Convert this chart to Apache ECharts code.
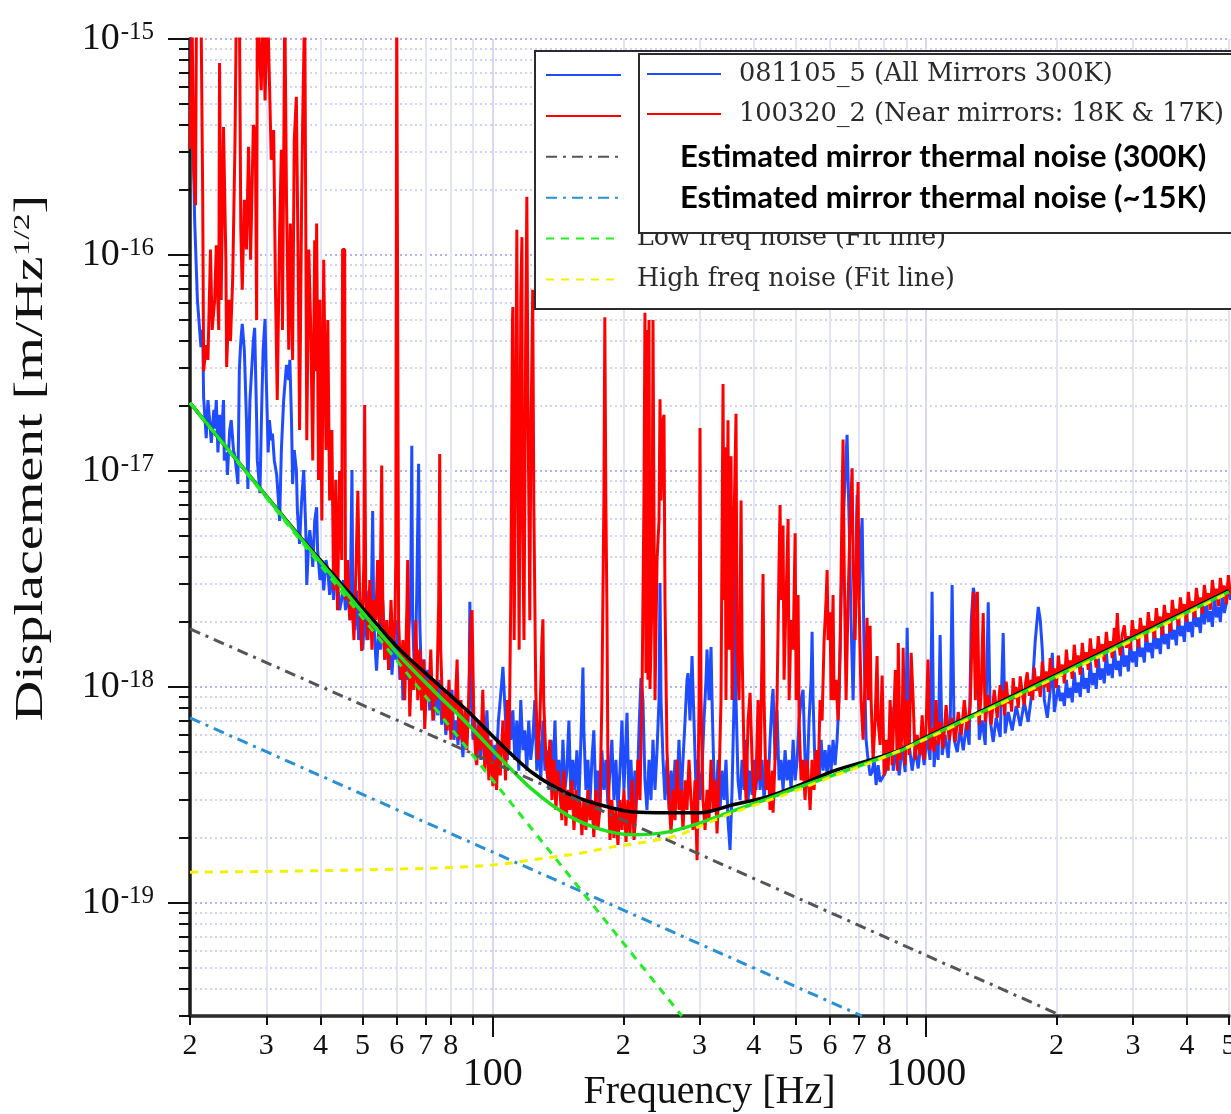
<!DOCTYPE html>
<html><head><meta charset="utf-8">
<script src="https://cdn.jsdelivr.net/npm/echarts@6/dist/echarts.min.js"></script>
<style>html,body{margin:0;padding:0;background:#fff}#c{width:1231px;height:1114px}</style>
</head><body><div id="c"></div>
<script>
// ---- data: [frequency Hz, displacement m/Hz^1/2] ----
const blue081105 = [[20,1.5e-15],[20.2,1.5e-15],[20.4,2.5e-16],[20.5,1.45e-16],[20.7,8.3e-17],[20.8,6.2e-17],[21.2,3.75e-17],[21.4,4.5e-17],[21.5,2.2e-17],[21.8,1.42e-17],[22.0,2.13e-17],[22.2,1.72e-17],[22.4,1.35e-17],[22.7,1.92e-17],[22.8,1.57e-17],[23.0,2.13e-17],[23.2,1.22e-17],[23.4,1.82e-17],[23.6,1.35e-17],[23.9,2.13e-17],[24.0,1.12e-17],[24.3,1.22e-17],[24.4,9.6e-18],[24.7,1.55e-17],[24.9,1.72e-17],[25.2,1.25e-17],[25.4,1.16e-17],[25.6,1.01e-17],[25.8,8.7e-18],[26.0,2.97e-17],[26.2,4.0e-17],[26.4,4.8e-17],[26.7,3.6e-17],[27.0,1.72e-17],[27.2,8.25e-18],[27.5,2.13e-17],[27.8,3.1e-17],[28.0,4.0e-17],[28.2,4.6e-17],[28.5,1.72e-17],[28.6,1.12e-17],[29.0,7.9e-18],[29.3,2.13e-17],[29.5,3.64e-17],[29.8,5.06e-17],[30.0,2.64e-17],[30.3,1.22e-17],[30.5,1.72e-17],[30.8,1.39e-17],[31.0,1.49e-17],[31.3,1.12e-17],[31.7,9.6e-18],[32.0,7.3e-18],[32.2,5.87e-18],[32.5,1.25e-17],[32.9,2.13e-17],[33.3,2.9e-17],[33.4,3.1e-17],[33.8,2.64e-17],[34.0,3.27e-17],[34.3,1.72e-17],[34.5,8.7e-18],[34.8,1.25e-17],[35.2,1.01e-17],[35.4,6.45e-18],[35.8,4.6e-18],[36.2,7.3e-18],[36.6,1.01e-17],[37.0,5.33e-18],[37.2,2.97e-18],[37.6,4.8e-18],[37.8,5.33e-18],[38.2,4.3e-18],[38.4,3.6e-18],[38.8,5.9e-18],[39.2,6.8e-18],[39.4,4.3e-18],[39.9,3.13e-18],[40.3,3.87e-18],[40.7,2.8e-18],[41.2,3.87e-18],[41.6,3.45e-18],[42.0,2.67e-18],[42.5,3.48e-18],[42.9,2.53e-18],[43.4,3.48e-18],[43.8,3.13e-18],[44.3,2.27e-18],[44.8,2.55e-18],[45.2,3.13e-18],[45.7,2.27e-18],[46.2,2.8e-18],[46.8,2.04e-18],[47.3,1.01e-17],[47.5,2.53e-18],[48.0,1.84e-18],[48.5,2.8e-18],[49.0,1.65e-18],[49.6,2.53e-18],[50.1,1.49e-18],[50.6,2.27e-18],[51.2,1.65e-18],[51.7,2.8e-18],[52.3,1.84e-18],[52.8,6.53e-18],[53.1,2.04e-18],[53.7,1.34e-18],[53.9,1.19e-18],[54.5,1.84e-18],[55.1,1.49e-18],[55.7,2.53e-18],[56.3,1.34e-18],[56.9,1.84e-18],[57.5,1.2e-18],[58.2,1.65e-18],[58.5,1.14e-18],[59.1,1.65e-18],[59.7,1.34e-18],[60.3,2.04e-18],[61.0,1.08e-18],[61.6,1.49e-18],[62.0,8.7e-19],[62.6,1.34e-18],[63.3,1.08e-18],[64.0,1.84e-18],[64.6,2.53e-18],[65.0,1.31e-17],[65.3,2.04e-18],[66.0,1.08e-18],[66.7,2.53e-18],[67.4,1.08e-17],[67.8,2.04e-18],[68.5,9.7e-19],[69.3,1.34e-18],[70.0,8.7e-19],[70.7,1.2e-18],[71.5,7.8e-19],[72.3,1.08e-18],[73.0,7.0e-19],[73.8,9.7e-19],[74.6,7.4e-19],[75.4,1.08e-18],[76.2,6.7e-19],[77.1,8.7e-19],[77.9,6.0e-19],[78.8,8.7e-19],[79.6,6.3e-19],[80.5,9.7e-19],[81.3,5.7e-19],[82.2,7.0e-19],[83.1,5.4e-19],[83.9,7.8e-19],[84.8,5.7e-19],[85.3,4.74e-19],[86.2,7.0e-19],[87.1,5.7e-19],[88.1,8.7e-19],[88.5,2.48e-18],[89.0,9.7e-19],[90.0,5.7e-19],[90.9,7.0e-19],[91.8,5.1e-19],[92.8,6.3e-19],[93.8,4.6e-19],[94.8,7.0e-19],[95.8,5.1e-19],[96.9,7.8e-19],[97.9,4.6e-19],[98.9,5.7e-19],[100,4.1e-19],[101,5.4e-19],[102,4.6e-19],[103,7.0e-19],[104,8.7e-19],[105.5,1.24e-18],[107,7.0e-19],[108,4.6e-19],[109,8.7e-19],[110,5.7e-19],[111.2,7.8e-19],[112.4,4.6e-19],[113.6,7.0e-19],[114.8,4.1e-19],[116,8.7e-19],[117.3,5.1e-19],[118.5,6.3e-19],[119.8,4.1e-19],[121,7.0e-19],[122.3,4.6e-19],[123.6,5.7e-19],[125,8.7e-19],[126.3,4.1e-19],[127.7,5.7e-19],[129,3.7e-19],[130.5,7.0e-19],[131.9,4.1e-19],[133.3,5.1e-19],[134.7,3.34e-19],[136.2,5.7e-19],[137.6,3.7e-19],[139.1,7.0e-19],[140.6,3.34e-19],[142,4.6e-19],[143.6,3.0e-19],[145.1,5.7e-19],[146.7,3.34e-19],[148.2,4.1e-19],[149.8,7.0e-19],[151.4,3.0e-19],[153,4.6e-19],[154.7,3.34e-19],[156.3,5.1e-19],[158,3.0e-19],[159.7,5.7e-19],[161.4,1.23e-18],[162.2,6.3e-19],[164,3.34e-19],[165.7,4.6e-19],[167.5,2.85e-19],[169.3,4.6e-19],[171,6.3e-19],[172.9,3.0e-19],[174.7,4.1e-19],[176.6,2.7e-19],[178.5,5.1e-19],[180.4,3.34e-19],[182.3,4.6e-19],[184.3,2.85e-19],[186.3,4.1e-19],[188.2,5.7e-19],[190.3,3.0e-19],[192.3,4.6e-19],[194.4,2.7e-19],[196.5,4.1e-19],[198.6,7.0e-19],[200.7,3.34e-19],[202.9,5.7e-19],[204,7.6e-19],[206.1,3.0e-19],[208.3,4.6e-19],[210.6,2.56e-19],[212.8,4.1e-19],[215.1,3.0e-19],[217.4,6.3e-19],[219.7,1.1e-18],[222,8.7e-19],[224.4,3.7e-19],[226.8,2.7e-19],[229.3,4.6e-19],[231.7,3.0e-19],[234.2,5.7e-19],[236.7,3.34e-19],[239.3,5.1e-19],[241.8,8.7e-19],[243.1,3.03e-18],[244.4,8.7e-19],[247,4.6e-19],[249.6,3.0e-19],[252.3,4.6e-19],[255,2.7e-19],[257.8,4.1e-19],[260.5,3.0e-19],[263.3,4.6e-19],[266.1,3.34e-19],[268.9,5.7e-19],[271.8,3.0e-19],[274.7,4.6e-19],[277.7,7.0e-19],[280.6,1.08e-18],[282.1,1.16e-18],[285.1,7.0e-19],[288.2,1.39e-18],[291.2,7.0e-19],[294.4,3.34e-19],[297.5,4.6e-19],[300.7,3.0e-19],[303.9,4.1e-19],[307.1,7.0e-19],[310.4,1.08e-18],[312.1,1.49e-18],[315.4,8.7e-19],[318.8,1.53e-18],[320.5,8.7e-19],[324,3.7e-19],[327.5,3.0e-19],[331,4.6e-19],[334.4,2.7e-19],[338,4.1e-19],[341.6,3.0e-19],[345.2,4.6e-19],[348.9,2.42e-19],[352.7,1.76e-19],[356.5,3.34e-19],[360.3,8.7e-19],[362.2,6.06e-18],[364.1,8.7e-19],[368,3.7e-19],[372,3.0e-19],[376,4.6e-19],[380,3.34e-19],[384.1,5.7e-19],[388.2,3.0e-19],[392.3,4.1e-19],[396.5,3.17e-19],[400.7,4.6e-19],[405,3.34e-19],[409.3,5.1e-19],[413.7,3.34e-19],[418.1,4.6e-19],[422.6,3.0e-19],[427.1,4.1e-19],[431.7,3.34e-19],[436.3,5.7e-19],[441,8.7e-19],[443.3,9.8e-19],[448,4.6e-19],[452.8,7.8e-19],[457.7,3.7e-19],[462.6,4.6e-19],[467.5,3.34e-19],[472.5,5.1e-19],[477.6,3.7e-19],[482.8,4.6e-19],[487.9,3.34e-19],[493.2,5.7e-19],[498.5,3.7e-19],[503.8,4.6e-19],[509,7.0e-19],[514.4,8.7e-19],[519.9,9.7e-19],[525.5,4.6e-19],[531.1,3.7e-19],[536.8,7.0e-19],[542.6,1.08e-18],[545.5,1.8e-18],[548.4,8.7e-19],[554.3,4.1e-19],[560.2,5.1e-19],[566.2,3.7e-19],[572.2,5.7e-19],[578.3,4.1e-19],[584.5,5.1e-19],[590.8,3.9e-19],[597.1,5.4e-19],[603.4,4.1e-19],[609.8,5.7e-19],[616.3,4.35e-19],[622.9,5.7e-19],[629.6,8.7e-19],[636.3,2.53e-18],[643.1,5.9e-18],[650,9.1e-18],[656.9,1.47e-17],[664,5.9e-18],[671,2.04e-18],[678.3,8.7e-19],[685.6,2.53e-18],[692.9,7.74e-18],[700.2,2.53e-18],[704,3.87e-18],[711.6,6.06e-18],[719.1,1.49e-18],[726.8,5.7e-19],[734.5,4.6e-19],[742.5,3.9e-19],[750.4,4.04e-19],[758.4,4.6e-19],[766.5,3.52e-19],[774.7,4.35e-19],[783,3.64e-19],[804.3,4.0e-19],[817.3,4.6e-19],[830.5,8.1e-19],[839.4,4.1e-19],[853,5.1e-19],[866.5,3.9e-19],[880.4,5.4e-19],[894.5,4.04e-19],[904,1.88e-18],[913.6,5.4e-19],[928.3,4.1e-19],[943.3,5.2e-19],[958.6,4.2e-19],[974,5.7e-19],[989.5,4.35e-19],[1005,6.0e-19],[1021,4.6e-19],[1032,2.76e-18],[1043,4.26e-19],[1054,5.7e-19],[1066,4.6e-19],[1077,1.74e-18],[1089,4.85e-19],[1106,6.0e-19],[1124,4.7e-19],[1136,6.3e-19],[1148,2.97e-18],[1161,5.7e-19],[1180,5.0e-19],[1198,6.4e-19],[1218,5.1e-19],[1238,6.7e-19],[1257,5.4e-19],[1271,2.04e-18],[1285,2.88e-18],[1299,2.53e-18],[1313,2.04e-18],[1326,5.7e-19],[1347,7.0e-19],[1369,5.4e-19],[1391,2.47e-18],[1406,7.0e-19],[1428,5.57e-19],[1451,7.2e-19],[1482,5.87e-19],[1506,1.78e-18],[1522,6.1e-19],[1547,7.66e-19],[1580,6.3e-19],[1614,8.17e-19],[1649,6.6e-19],[1684,8.52e-19],[1720,6.9e-19],[1757,9.7e-19],[1786,1.65e-18],[1815,2.35e-18],[1834,2.04e-18],[1854,1.49e-18],[1874,8.7e-19],[1904,7.2e-19],[1934,9.7e-19],[1955,1.44e-18],[1976,7.66e-19],[2019,1.02e-18],[2040,8.6e-19],[2062,9.4e-19],[2085,8.17e-19],[2107,1.08e-18],[2129,8.9e-19],[2151,9.9e-19],[2174,8.5e-19],[2197,1.17e-18],[2220,9.4e-19],[2244,1.05e-18],[2268,9.0e-19],[2293,1.23e-18],[2317,9.8e-19],[2342,1.1e-18],[2367,9.4e-19],[2392,1.31e-18],[2417,1.02e-18],[2443,1.16e-18],[2469,9.8e-19],[2496,1.36e-18],[2523,1.08e-18],[2550,1.22e-18],[2577,1.04e-18],[2605,1.45e-18],[2633,1.13e-18],[2661,1.28e-18],[2689,1.1e-18],[2718,1.52e-18],[2747,1.2e-18],[2776,1.32e-18],[2806,1.12e-18],[2836,1.57e-18],[2867,1.24e-18],[2898,1.4e-18],[2929,1.18e-18],[2959,1.65e-18],[2991,1.3e-18],[3023,1.46e-18],[3056,1.24e-18],[3088,1.72e-18],[3121,1.38e-18],[3154,1.52e-18],[3188,1.3e-18],[3222,1.8e-18],[3256,1.45e-18],[3291,1.6e-18],[3327,1.36e-18],[3362,1.88e-18],[3398,1.5e-18],[3434,1.68e-18],[3471,1.42e-18],[3508,2.0e-18],[3545,1.58e-18],[3584,1.76e-18],[3622,1.5e-18],[3661,2.09e-18],[3699,1.66e-18],[3740,1.84e-18],[3779,1.56e-18],[3820,2.15e-18],[3861,1.72e-18],[3902,1.92e-18],[3943,1.62e-18],[3986,2.27e-18],[4028,1.8e-18],[4072,2.0e-18],[4115,1.7e-18],[4160,2.4e-18],[4204,1.9e-18],[4249,2.1e-18],[4294,1.78e-18],[4340,2.45e-18],[4386,1.95e-18],[4433,2.53e-18],[4480,2.0e-18],[4529,2.25e-18],[4577,1.9e-18],[4627,2.64e-18],[4675,2.1e-18],[4726,2.35e-18],[4775,2.0e-18],[4828,2.76e-18],[4878,2.2e-18],[4930,2.45e-18],[4983,3.07e-18],[5036,2.53e-18]];

const red100320 = [[20.0,3.1e-16],[20.2,1.5e-15],[20.4,2.5e-16],[20.6,1.7e-16],[20.7,1.5e-15],[21.2,1.5e-15],[21.4,1.8e-16],[21.5,2.9e-17],[21.8,3.83e-17],[22.0,3.27e-17],[22.3,1.06e-16],[22.5,4.5e-17],[22.8,6.19e-17],[23.0,1.11e-16],[23.3,4.5e-17],[23.4,7.74e-16],[23.6,6.2e-17],[23.9,3.91e-16],[24.2,9.5e-17],[24.3,3.03e-17],[24.6,6.2e-17],[24.8,4.0e-17],[25.1,7.9e-17],[25.4,3.3e-16],[25.6,1.5e-15],[26.0,1.5e-15],[26.2,1.31e-16],[26.4,6.9e-17],[26.7,1.8e-16],[27.0,1.06e-16],[27.3,3.17e-16],[27.6,9.5e-17],[27.9,2.76e-16],[28.0,4.0e-16],[28.3,3.67e-16],[28.5,5.0e-17],[28.6,1.5e-15],[29.2,5.8e-16],[29.5,1.5e-15],[29.8,5.2e-16],[30.2,1.5e-15],[30.5,6.46e-16],[30.8,2.76e-16],[31.2,3.79e-16],[31.5,6.9e-17],[31.8,2.13e-17],[32.2,1.31e-16],[32.5,3.07e-16],[32.7,4.5e-17],[33.1,1.5e-15],[33.4,1.8e-16],[33.8,3.64e-17],[34.1,1.4e-16],[34.5,3.27e-17],[34.8,3.4e-16],[35.2,5.4e-16],[35.6,6.2e-17],[35.8,1.55e-17],[36.2,1.8e-16],[36.4,4.2e-16],[36.8,1.5e-15],[37.2,1.39e-17],[37.6,1.06e-16],[38.0,4.5e-17],[38.4,1.12e-17],[38.8,1.17e-16],[39.0,2.9e-17],[39.2,1.4e-16],[39.6,9.1e-18],[39.9,6.2e-17],[40.3,5.9e-18],[40.7,9.5e-17],[41.2,1.25e-17],[41.6,5.0e-17],[42.0,7.3e-18],[42.5,1.55e-17],[42.9,2.8e-18],[43.4,9.1e-18],[43.8,2.27e-18],[44.3,1.0e-17],[44.8,3.87e-18],[45.0,1.06e-16],[45.5,1.06e-16],[45.7,2.53e-18],[46.2,3.87e-18],[46.8,2.04e-18],[47.3,2.53e-18],[47.8,1.65e-18],[48.3,3.48e-18],[48.8,8.1e-18],[49.3,2.53e-18],[49.8,1.47e-18],[50.4,3.87e-18],[50.6,2.02e-17],[50.9,2.53e-18],[51.5,1.65e-18],[52.0,3.13e-18],[52.6,1.49e-18],[53.1,2.53e-18],[53.7,2.04e-18],[54.2,3.87e-18],[54.8,1.65e-18],[55.4,1.06e-17],[55.7,2.53e-18],[56.3,1.34e-18],[56.9,2.04e-18],[57.5,1.2e-18],[58.2,2.53e-18],[58.8,1.49e-18],[59.4,1.84e-18],[59.7,3.87e-18],[60.0,1.5e-15],[60.6,2.04e-18],[61.3,1.08e-18],[62.0,1.65e-18],[62.6,8.7e-19],[63.3,2.27e-18],[63.6,3.87e-18],[64.3,7.3e-19],[65.0,1.34e-18],[65.7,9.7e-19],[66.4,2.04e-18],[67.1,8.7e-19],[67.8,1.49e-18],[68.5,7.8e-19],[69.3,1.34e-18],[69.6,6.4e-19],[70.4,1.08e-18],[71.1,8.7e-19],[71.9,1.49e-18],[72.7,7.0e-19],[73.4,1.08e-18],[74.2,8.7e-19],[75.0,2.53e-18],[75.4,1.2e-17],[75.8,1.49e-18],[76.7,7.0e-19],[77.5,9.7e-19],[78.3,6.3e-19],[79.2,1.08e-18],[80.0,5.7e-19],[80.9,8.7e-19],[81.8,7.8e-19],[82.7,1.34e-18],[83.5,5.7e-19],[84.4,8.7e-19],[85.3,5.4e-19],[86.2,7.8e-19],[87.1,5.1e-19],[88.1,9.7e-19],[89.0,2.04e-18],[89.5,2.27e-18],[90.4,7.0e-19],[91.4,4.6e-19],[91.8,4.35e-19],[92.8,7.0e-19],[93.8,5.1e-19],[94.8,9.7e-19],[95.8,4.1e-19],[96.9,6.3e-19],[97.9,3.7e-19],[98.9,5.7e-19],[100,3.48e-19],[101,4.6e-19],[102,3.34e-19],[103,5.7e-19],[104,3.9e-19],[105.5,7.0e-19],[107,3.7e-19],[108,8.7e-19],[109,5.1e-19],[110,2.53e-18],[111,5.0e-17],[111.2,5.75e-17],[112,1.65e-18],[113,2.13e-17],[113.6,1.31e-16],[114,2.13e-17],[115,1.49e-18],[116,6.2e-17],[116.7,1.21e-16],[117,7.3e-18],[118,1.65e-18],[119,3.64e-17],[119.8,1.86e-16],[120.5,2.13e-17],[121.7,2.04e-18],[122.3,1.25e-17],[123.6,6.9e-17],[124.3,7.3e-18],[125.6,9.7e-19],[127,4.6e-19],[128.4,7.0e-19],[129.8,1.65e-18],[130.5,2.06e-18],[131,8.7e-19],[132.6,4.6e-19],[134,3.7e-19],[135.4,5.7e-19],[136.9,3.0e-19],[138.4,4.6e-19],[139.8,2.7e-19],[141.3,4.1e-19],[142.8,3.34e-19],[144.3,2.42e-19],[145.9,4.1e-19],[147.4,2.28e-19],[149,3.34e-19],[150.6,2.7e-19],[152.2,3.7e-19],[153.9,2.18e-19],[155.5,3.34e-19],[157.1,2.42e-19],[158.8,3.0e-19],[160.5,2.06e-19],[162.2,3.0e-19],[164,2.18e-19],[165.7,3.34e-19],[167.5,2.42e-19],[169.3,3.0e-19],[171,2.02e-19],[172.9,3.34e-19],[174.7,2.18e-19],[176.6,2.7e-19],[178.5,8.7e-19],[180.4,7.3e-18],[181.3,5.15e-17],[182.3,7.3e-18],[183.3,2.45e-18],[184.3,4.6e-19],[186.3,1.96e-19],[188.2,3.0e-19],[190.3,2.0e-19],[192.3,2.7e-19],[194.4,1.86e-19],[196.5,3.0e-19],[198.6,2.18e-19],[200.7,3.34e-19],[202.9,1.92e-19],[205,3.0e-19],[207.2,2.06e-19],[209.4,3.7e-19],[211.7,1.96e-19],[214,2.7e-19],[216.2,4.6e-19],[218.5,3.0e-19],[220.9,8.7e-19],[223.2,7.3e-18],[224.4,5.4e-17],[225.6,1.16e-18],[226.8,4.5e-17],[228,1.08e-18],[229.3,5.0e-17],[230.5,9.8e-19],[232.9,2.53e-18],[234.2,5.0e-17],[236.7,8.7e-19],[239.3,3.87e-18],[241.8,5.9e-18],[243.1,2.15e-17],[244.4,7.3e-18],[247,1.72e-17],[248.3,1.82e-17],[249.6,2.53e-18],[252.3,5.1e-19],[255,3.0e-19],[257.8,2.1e-19],[260.5,3.34e-19],[263.3,2.42e-19],[266.1,4.6e-19],[268.9,2.7e-19],[271.8,3.34e-19],[274.7,2.18e-19],[277.7,3.7e-19],[280.6,2.7e-19],[283.6,4.6e-19],[286.6,3.0e-19],[289.7,2.18e-19],[292.8,3.7e-19],[296,1.58e-19],[299.2,8.7e-19],[300.7,1.58e-17],[302.3,8.7e-19],[305.5,3.0e-19],[308.8,2.18e-19],[312.1,3.34e-19],[315.4,2.42e-19],[318.8,4.6e-19],[322.3,2.7e-19],[325.7,3.7e-19],[329.2,2.1e-19],[332.7,3.7e-19],[336.2,8.7e-19],[339.8,2.53e-17],[341.6,2.53e-18],[343.4,1.29e-17],[345.2,8.7e-19],[348.9,1.72e-17],[350.8,1.49e-18],[354.6,1.17e-17],[356.5,8.7e-19],[360.3,5.9e-18],[364.1,1.84e-17],[366.1,1.49e-18],[370,8.7e-19],[374,7.3e-18],[376,1.49e-18],[380,4.6e-19],[384.1,3.0e-19],[388.2,7.0e-19],[392.3,9.4e-19],[396.5,4.6e-19],[400.7,3.0e-19],[405,3.7e-19],[409.3,8.7e-19],[413.7,3.7e-19],[418.1,1.49e-18],[420.3,3.34e-18],[422.6,8.7e-19],[427.1,3.34e-19],[431.7,4.6e-19],[436.3,2.7e-19],[441,4.1e-19],[443.3,2.62e-19],[448,4.6e-19],[452.8,8.7e-19],[457.7,3.87e-18],[460.1,6.96e-18],[462.6,2.53e-18],[467.5,5.6e-18],[470,1.08e-18],[475,2.53e-18],[480.2,6.0e-18],[482.8,8.7e-19],[487.9,2.04e-18],[493.2,1.49e-18],[498.5,5.15e-18],[501.1,8.7e-19],[506.3,2.67e-18],[509,7.0e-19],[514.4,3.7e-19],[519.9,4.6e-19],[525.5,3.0e-19],[531.1,4.6e-19],[536.8,3.34e-19],[539.7,2.7e-19],[545.5,4.6e-19],[551.3,3.34e-19],[557.2,5.1e-19],[563.2,3.7e-19],[569.2,8.7e-19],[575.3,7.0e-19],[581.4,1.65e-18],[587.6,2.53e-18],[590.8,3.48e-18],[593.9,1.65e-18],[600.2,2.22e-18],[603.4,8.7e-19],[609.8,2.67e-18],[613.1,8.7e-19],[619.6,1.08e-18],[626.3,7.0e-19],[633,1.49e-18],[639.7,7.3e-18],[643.1,1.4e-17],[646.6,3.87e-18],[653.5,8.7e-19],[660.5,2.53e-18],[667.6,5.9e-18],[674.7,1.03e-17],[678.3,3.87e-18],[685.6,1.65e-18],[692.9,5.9e-18],[696.5,8.9e-18],[700.2,2.53e-18],[707.7,8.7e-19],[715.3,5.7e-19],[722.9,1.08e-18],[730.6,2.09e-18],[734.5,8.7e-19],[742.5,1.92e-18],[746.4,8.7e-19],[754.4,4.6e-19],[762.4,7.0e-19],[770.5,1.39e-18],[774.7,7.0e-19],[783,5.4e-19],[791.5,1.13e-18],[800,3.9e-19],[808.6,5.7e-19],[817.3,4.1e-19],[825.8,8.7e-19],[835,4.35e-19],[849,1.2e-18],[858,4.1e-19],[862.4,1.6e-18],[871,4.6e-19],[880.4,6.3e-19],[885,1.52e-18],[894.5,4.35e-19],[904,8.7e-19],[913.6,4.85e-19],[923.4,1.44e-18],[933.3,8.7e-19],[943.3,4.6e-19],[953.4,6.0e-19],[968.6,4.85e-19],[979,7.4e-19],[989.5,4.6e-19],[1000,6.7e-19],[1010,1.34e-18],[1021,5.1e-19],[1032,6.45e-19],[1043,5.0e-19],[1054,8.7e-19],[1066,5.4e-19],[1077,6.9e-19],[1094,5.2e-19],[1112,8.25e-19],[1130,5.7e-19],[1148,7.2e-19],[1167,5.57e-19],[1186,7.66e-19],[1205,6.0e-19],[1225,8.7e-19],[1244,6.3e-19],[1264,8.25e-19],[1285,2.76e-18],[1299,8.7e-19],[1313,2.76e-18],[1326,6.7e-19],[1340,9.7e-19],[1354,2.2e-18],[1369,6.9e-19],[1391,9.2e-19],[1413,6.7e-19],[1436,9.7e-19],[1459,7.2e-19],[1482,1.02e-18],[1494,8.1e-19],[1506,9.6e-19],[1518,7.4e-19],[1530,1.06e-18],[1547,8.4e-19],[1563,9.2e-19],[1575,7.7e-19],[1588,1.1e-18],[1601,8.8e-19],[1614,1.0e-18],[1631,8.0e-19],[1649,1.12e-18],[1667,9.3e-19],[1684,8.25e-19],[1697,1.05e-18],[1711,1.17e-18],[1730,9.1e-19],[1748,1.08e-18],[1762,8.7e-19],[1776,1.23e-18],[1795,9.6e-19],[1815,1.12e-18],[1834,9.0e-19],[1854,1.31e-18],[1874,1.0e-18],[1894,1.18e-18],[1914,9.5e-19],[1934,1.36e-18],[1955,1.08e-18],[1976,1.22e-18],[1997,9.9e-19],[2019,1.4e-18],[2040,1.12e-18],[2062,1.27e-18],[2085,1.04e-18],[2107,1.49e-18],[2129,1.18e-18],[2151,1.33e-18],[2174,1.09e-18],[2197,1.57e-18],[2220,1.26e-18],[2244,1.4e-18],[2268,1.14e-18],[2293,1.6e-18],[2317,1.3e-18],[2342,1.45e-18],[2367,1.2e-18],[2392,1.68e-18],[2417,1.36e-18],[2443,1.5e-18],[2469,1.23e-18],[2496,1.72e-18],[2523,1.4e-18],[2550,1.58e-18],[2577,1.31e-18],[2605,1.8e-18],[2633,1.47e-18],[2661,1.63e-18],[2689,1.36e-18],[2718,1.88e-18],[2740,1.55e-18],[2762,2.2e-18],[2784,1.6e-18],[2806,1.4e-18],[2836,1.75e-18],[2867,1.93e-18],[2898,1.52e-18],[2929,1.72e-18],[2959,1.49e-18],[2991,2.04e-18],[3023,1.66e-18],[3056,1.85e-18],[3088,1.52e-18],[3121,2.09e-18],[3154,1.75e-18],[3188,1.92e-18],[3222,1.62e-18],[3256,2.22e-18],[3291,1.83e-18],[3327,2.02e-18],[3362,1.68e-18],[3398,2.32e-18],[3434,1.93e-18],[3471,2.12e-18],[3508,1.74e-18],[3545,2.4e-18],[3584,2.0e-18],[3622,2.2e-18],[3661,1.8e-18],[3699,2.53e-18],[3740,2.08e-18],[3779,2.3e-18],[3820,1.92e-18],[3861,2.6e-18],[3902,2.18e-18],[3943,2.42e-18],[3986,2.0e-18],[4028,2.76e-18],[4072,2.28e-18],[4115,2.5e-18],[4160,2.09e-18],[4204,2.88e-18],[4249,2.4e-18],[4294,2.6e-18],[4340,2.18e-18],[4386,2.97e-18],[4433,2.5e-18],[4480,2.72e-18],[4529,2.28e-18],[4577,3.13e-18],[4627,2.6e-18],[4675,2.85e-18],[4726,2.37e-18],[4775,3.2e-18],[4828,2.7e-18],[4878,2.95e-18],[4930,2.42e-18],[4983,3.3e-18],[5036,2.67e-18]];

const fitTotal = [[20,2.07e-17],[27.5,9.48e-18],[35.8,4.95e-18],[44.3,2.97e-18],[52,2.02e-18],[61,1.39e-18],[72.7,9.7e-19],[87.1,6.8e-19],[103.8,4.7e-19],[123.6,3.34e-19],[148.2,2.56e-19],[176.6,2.2e-19],[210.6,2.07e-19],[252.3,2.13e-19],[300.7,2.35e-19],[358.4,2.67e-19],[429.4,3.03e-19],[511.7,3.45e-19],[609.8,3.91e-19],[730.6,4.45e-19],[871,5.06e-19],[1000,5.81e-19],[1482,8.4e-19],[2523,1.41e-18],[5000,2.76e-18]];
const fitPlusThermal = [[20,2.07e-17],[35.8,5.0e-18],[44.3,3.07e-18],[52,2.13e-18],[61,1.49e-18],[72.7,1.08e-18],[87.1,7.8e-19],[103.8,5.5e-19],[123.6,4.0e-19],[148.2,3.23e-19],[176.6,2.85e-19],[210.6,2.64e-19],[252.3,2.62e-19],[300.7,2.62e-19],[358.4,2.85e-19],[429.4,3.1e-19],[511.7,3.52e-19],[609.8,4.08e-19],[730.6,4.55e-19],[871,5.1e-19],[1000,5.87e-19],[1482,8.52e-19],[2523,1.43e-18],[5000,2.8e-18]];
const thermal300K = [[20,1.86e-18],[176.6,2.7e-19],[2061,3e-20]];
const thermal15K = [[20,7.2e-19],[100,1.72e-19],[711,3e-20]];
const lowFreqFit = [[20,2.07e-17],[100,3.7e-19],[273,3e-20]];
const highFreqFit = [[20,1.39e-19],[29.5,1.4e-19],[46,1.42e-19],[71.5,1.45e-19],[100,1.5e-19],[133.3,1.62e-19],[158.8,1.7e-19],[189.3,1.82e-19],[226.8,1.92e-19],[270.3,2.07e-19],[300.7,2.27e-19],[358.4,2.62e-19],[429.4,2.97e-19],[511.7,3.37e-19],[609.8,3.87e-19],[730.6,4.4e-19],[1000,5.75e-19],[1482,8.34e-19],[2523,1.39e-18],[5000,2.74e-18]];

// ---- ticks ----
const xMinorTicks = [20,30,40,50,60,70,80,90,200,300,400,500,600,700,800,900,2000,3000,4000,5000];
const xMinorLabels = [20,30,40,50,60,70,80,200,300,400,500,600,700,800,2000,3000,4000,5000];
const xMajorTicks = [100,1000];
const yDecades = [1e-15,1e-16,1e-17,1e-18,1e-19];
const yMinorTicks = [9e-16,8e-16,7e-16,6e-16,5e-16,4e-16,3e-16,2e-16,9e-17,8e-17,7e-17,6e-17,5e-17,4e-17,3e-17,2e-17,9e-18,8e-18,7e-18,6e-18,5e-18,4e-18,3e-18,2e-18,9e-19,8e-19,7e-19,6e-19,5e-19,4e-19,3e-19,2e-19,9e-20,8e-20,7e-20,6e-20,5e-20,4e-20,3e-20];

const names = {
  blue: '081105_5 (All Mirrors 300K)',
  red: '100320_2 (Near mirrors: 18K & 17K)',
  t300: 'Estimated mirror thermal noise (300K)',
  t15: 'Estimated mirror thermal noise (~15K)',
  low: 'Low freq noise (Fit line)',
  high: 'High freq noise (Fit line)'
};

const SERIF = 'Liberation Serif';
const chart = echarts.init(document.getElementById('c'), null, {renderer: 'canvas'});

const xBase = {type: 'log', logBase: 10, min: 20, max: 5000, gridIndex: 0, position: 'bottom', nameMoveOverlap: false};
const yBase = {type: 'log', logBase: 10, min: 3e-20, max: 1e-15, gridIndex: 0, position: 'left', nameMoveOverlap: false};

chart.setOption({
  animation: false,
  backgroundColor: '#fff',
  grid: {left: 190, right: 2, top: 39, bottom: 98, containLabel: false, outerBoundsMode: 'none'},
  xAxis: [
    Object.assign({}, xBase, {
      axisLine: {show: true, onZero: false, lineStyle: {color: '#2a2a2a', width: 3.5}},
      axisTick: {show: true, length: 9, customValues: xMinorTicks.concat(xMajorTicks), lineStyle: {color: '#111', width: 2}},
      axisLabel: {show: true, customValues: xMinorLabels, margin: 15, fontFamily: SERIF, fontSize: 30, color: '#111',
        formatter: v => String(Math.round(v / Math.pow(10, Math.floor(Math.log10(v) + 1e-9))))},
      splitLine: {show: true, lineStyle: {color: '#e3e3f8', width: 2}}
    }),
    Object.assign({}, xBase, {
      axisLine: {show: false, onZero: false},
      axisTick: {show: true, length: 21, customValues: xMajorTicks, lineStyle: {color: '#111', width: 2}},
      axisLabel: {show: true, customValues: xMajorTicks, margin: 38, fontFamily: SERIF, fontSize: 40, color: '#111',
        formatter: v => String(Math.round(v))},
      splitLine: {show: true, lineStyle: {color: '#d8d8f4', width: 2}},
      name: 'Frequency [Hz]', nameLocation: 'middle', nameGap: 56,
      nameTextStyle: {fontFamily: SERIF, fontSize: 40, color: '#111'}
    })
  ],
  yAxis: [
    Object.assign({}, yBase, {
      axisLine: {show: true, onZero: false, lineStyle: {color: '#1a1a1a', width: 3.5}},
      axisTick: {show: true, length: 11, customValues: yMinorTicks.concat(yDecades), lineStyle: {color: '#111', width: 2}},
      axisLabel: {show: false},
      splitLine: {show: true, lineStyle: {color: '#c4c4ee', width: 1.6, type: [2, 3]}}
    }),
    Object.assign({}, yBase, {
      axisLine: {show: false, onZero: false},
      axisTick: {show: true, length: 22, customValues: yDecades, lineStyle: {color: '#111', width: 2}},
      axisLabel: {
        show: true, customValues: yDecades, margin: 36,
        formatter: v => '{b|10}{s|' + Math.round(Math.log10(v)) + '}',
        rich: {
          b: {fontFamily: SERIF, fontSize: 38, lineHeight: 38, color: '#111'},
          s: {fontFamily: SERIF, fontSize: 25, lineHeight: 25, color: '#111', verticalAlign: 'top', padding: [0, 0, 26, 1]}
        }
      },
      splitLine: {show: true, lineStyle: {color: '#b4b4ea', width: 1.8, type: [2, 3]}}
    })
  ],
  legend: [
    {
      z: 6, left: 540, top: 56, orient: 'vertical', selectedMode: false,
      itemWidth: 75, itemHeight: 28, itemGap: 12.9,
      itemStyle: {opacity: 0},
      data: [names.blue, names.red, names.t300, names.t15, names.low, names.high],
      formatter: n => (n === names.low || n === names.high) ? n : '\u00a0',
      textStyle: {fontFamily: 'DejaVu Serif', fontSize: 25.3, lineHeight: 28, color: '#2a2a2a', padding: [0, 0, 0, 11]}
    },
    {
      z: 8, left: 641, top: 55, orient: 'vertical', selectedMode: false,
      itemWidth: 74, itemHeight: 28, itemGap: 12,
      itemStyle: {opacity: 0},
      data: [names.blue, names.red],
      textStyle: {fontFamily: 'DejaVu Serif', fontSize: 25.6, lineHeight: 28, color: '#2a2a2a', padding: [0, 0, 0, 13]}
    }
  ],
  graphic: [
    {type: 'rect', z: 5, left: 534, top: 50, shape: {width: 720, height: 258},
      style: {fill: '#fff', stroke: '#2b2b2b', lineWidth: 2}},
    {type: 'rect', z: 7, left: 638, top: 53, shape: {width: 620, height: 179},
      style: {fill: '#fff', stroke: '#2b2b2b', lineWidth: 2}},
    {type: 'text', z: 8, x: 680, y: 157,
      style: {text: names.t300, fill: '#000', font: 'bold 31px Lato', verticalAlign: 'middle'}},
    {type: 'text', z: 8, x: 680, y: 198,
      style: {text: names.t15, fill: '#000', font: 'bold 31px Lato', verticalAlign: 'middle'}},
    {type: 'text', z: 8, x: 31, y: 458, rotation: Math.PI / 2, scaleX: 1.4,
      style: {
        text: '{a|Displacement [m/Hz}{s|1/2}{a|]}', align: 'center', verticalAlign: 'middle',
        rich: {
          a: {fontFamily: SERIF, fontSize: 40, lineHeight: 40, fill: '#111'},
          s: {fontFamily: SERIF, fontSize: 24, lineHeight: 24, fill: '#111', verticalAlign: 'top', padding: [0, 0, 22, 0]}
        }
      }}
  ],
  series: [
    {name: names.blue, type: 'line', data: blue081105, showSymbol: false, symbol: 'none', z: 2,
      lineStyle: {color: '#1f4cff', width: 3}, itemStyle: {color: '#1f4cff'}},
    {name: names.red, type: 'line', data: red100320, showSymbol: false, symbol: 'none', z: 2,
      lineStyle: {color: '#ff0000', width: 3}, itemStyle: {color: '#ff0000'}},
    {name: 'Total fit + thermal', type: 'line', data: fitPlusThermal, smooth: 0.3, showSymbol: false, symbol: 'none', z: 3,
      lineStyle: {color: '#000', width: 3.5}},
    {name: 'Total fit', type: 'line', data: fitTotal, smooth: 0.3, showSymbol: false, symbol: 'none', z: 3,
      lineStyle: {color: '#1fe01f', width: 3.5}},
    {name: names.t300, type: 'line', data: thermal300K, showSymbol: false, symbol: 'none', z: 3,
      lineStyle: {color: '#555555', width: 3, type: [11, 6, 3, 6]}, itemStyle: {color: '#555555'}},
    {name: names.t15, type: 'line', data: thermal15K, showSymbol: false, symbol: 'none', z: 3,
      lineStyle: {color: '#2a90d4', width: 3, type: [11, 6, 3, 6]}, itemStyle: {color: '#2a90d4'}},
    {name: names.low, type: 'line', data: lowFreqFit, showSymbol: false, symbol: 'none', z: 3,
      lineStyle: {color: '#22ee22', width: 3, type: [8, 7]}, itemStyle: {color: '#22ee22'}},
    {name: names.high, type: 'line', data: highFreqFit, smooth: 0.3, showSymbol: false, symbol: 'none', z: 3,
      lineStyle: {color: '#f2f200', width: 3, type: [8, 7]}, itemStyle: {color: '#f2f200'}}
  ]
});
</script></body></html>
